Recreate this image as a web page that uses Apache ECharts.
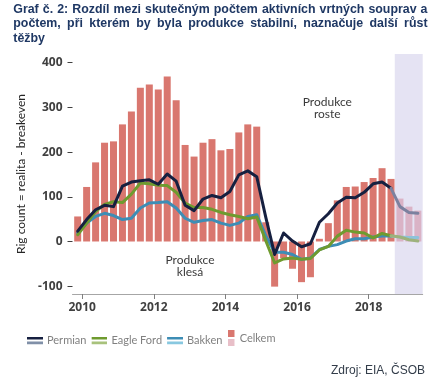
<!DOCTYPE html>
<html><head><meta charset="utf-8">
<script src="https://cdn.jsdelivr.net/npm/echarts@6/dist/echarts.min.js"></script>
<style>html,body{margin:0;padding:0;background:#fff}#c{width:444px;height:389px}</style>
</head><body><div id="c"></div>
<script>
// ---- data ----
const quarters = ['2009Q4',
  '2010Q1','2010Q2','2010Q3','2010Q4','2011Q1','2011Q2','2011Q3','2011Q4',
  '2012Q1','2012Q2','2012Q3','2012Q4','2013Q1','2013Q2','2013Q3','2013Q4',
  '2014Q1','2014Q2','2014Q3','2014Q4','2015Q1','2015Q2','2015Q3','2015Q4',
  '2016Q1','2016Q2','2016Q3','2016Q4','2017Q1','2017Q2','2017Q3','2017Q4',
  '2018Q1','2018Q2','2018Q3','2018Q4','2019Q1','2019Q2'];
const celkem = [56,122,177,221,224,262,291,344,351,340,369,316,216,190,221,229,204,207,244,262,257,43,-101,-37,-61,-91,-80,6,41,92,122,123,133,142,164,140,96,78,69];
const permian = [23,49,71,81,78,124,133,136,138,128,151,135,81,69,95,103,98,112,149,158,145,55,-29,19,1,-12,-5,43,62,86,99,98,110,129,133,119,78,65,63];
const eagleFord = [15,41,67,83,89,87,106,131,129,126,125,110,86,76,76,72,65,60,56,51,55,2,-48,-39,-37,-40,-38,-19,-11,12,25,21,19,8,18,13,10,4,1];
const bakken = [19,41,56,63,58,49,52,75,86,87,89,75,52,43,47,49,41,36,41,56,60,13,-24,-24,-29,-40,-37,-18,-11,-7,1,6,6,10,12,12,10,9,9];
const forecastFrom = '2018Q4';       // first forecast quarter (lighter)
const yearTicks = [2010, 2012, 2014, 2016, 2018];
const yTicks = [-100, 0, 100, 200, 300, 400];
const titleLines = ['Graf č. 2: Rozdíl mezi skutečným počtem aktivních vrtných souprav a',
  'počtem, při kterém by byla produkce stabilní, naznačuje další růst', 'těžby'];
const noteDown = ['Produkce', 'klesá'];
const noteUp = ['Produkce', 'roste'];
const sourceText = 'Zdroj: EIA, ČSOB';

// ---- helpers ----
const qx = q => parseInt(q.slice(0, 4), 10) + (parseInt(q.slice(5), 10) - 0.5) / 4;
const fIdx = quarters.indexOf(forecastFrom);
const xMin = 2009.73, xMax = 2019.51;
const shadeStart = 2018.73;

const C = {
  bar: '#d9776f', barF: '#dab3c6',
  per: '#162040', perF: '#7c819f',
  ef: '#6f9b2f', efF: '#9db27c',
  bak: '#3d8db5', bakF: '#8ec2da',
  shade: '#e5e3f3'
};

function pairs(arr, from, to) {
  return quarters.map((q, i) => (i >= from && i <= to) ? [qx(q), arr[i]] : null).filter(Boolean);
}
function stripeIcon(c1, c2) {
  const svg = '<svg xmlns="http://www.w3.org/2000/svg" width="16" height="8" viewBox="0 0 16 8">' +
    '<rect x="0" y="0" width="16" height="3" fill="' + c1 + '"/>' +
    '<rect x="0" y="5" width="16" height="3" fill="' + c2 + '"/></svg>';
  return 'image://data:image/svg+xml;charset=utf-8,' + encodeURIComponent(svg);
}
function boxIcon(c1, c2) {
  const svg = '<svg xmlns="http://www.w3.org/2000/svg" width="7" height="16" viewBox="0 0 7 16">' +
    '<rect x="0" y="0" width="7" height="7" fill="' + c1 + '"/>' +
    '<rect x="0" y="9" width="7" height="7" fill="' + c2 + '"/></svg>';
  return 'image://data:image/svg+xml;charset=utf-8,' + encodeURIComponent(svg);
}

function lineSeries(name, arr, col, colF) {
  const base = {
    name, type: 'line', showSymbol: false, symbol: 'none', z: 3,
    lineStyle: { width: 3, join: 'round', cap: 'round' }, emphasis: { disabled: true }
  };
  return [
    Object.assign({}, base, { data: pairs(arr, 0, fIdx - 1), lineStyle: Object.assign({}, base.lineStyle, { color: col }), itemStyle: { color: col } }),
    Object.assign({}, base, { data: pairs(arr, fIdx - 1, quarters.length - 1), lineStyle: Object.assign({}, base.lineStyle, { color: colF }), itemStyle: { color: colF } })
  ];
}

// ---- title (justified) ----
const ctx = document.createElement('canvas').getContext('2d');
const tLeft = 13.3, tRight = 427.5, tY0 = 9.5, tLH = 14.3;
ctx.font = 'bold 13px "Liberation Sans", Arial, sans-serif';
const natural = ctx.measureText(titleLines[0]).width;
const tSize = Math.min(13, 13 * (tRight - tLeft) / natural * 0.985);
const titleFont = 'bold ' + tSize.toFixed(2) + 'px "Liberation Sans", Arial, sans-serif';
ctx.font = titleFont;
const graphics = [];
titleLines.forEach((line, li) => {
  const words = line.split(' ');
  const widths = words.map(w => ctx.measureText(w).width);
  const total = widths.reduce((a, b) => a + b, 0);
  const last = li === titleLines.length - 1;
  const gap = last ? ctx.measureText(' ').width : (tRight - tLeft - total) / (words.length - 1);
  let x = tLeft;
  words.forEach((w, wi) => {
    graphics.push({ type: 'text', x: x, y: tY0 + li * tLH,
      style: { text: w, font: titleFont, fill: '#1f3864', align: 'left', verticalAlign: 'middle', textAlign: 'left', textVerticalAlign: 'middle' } });
    x += widths[wi] + gap;
  });
});
const noteFont = '12px Lato, "Open Sans", sans-serif';
function note(lines, cx, cy) {
  lines.forEach((t, i) => graphics.push({ type: 'text', x: cx, y: cy + i * 12,
    style: { text: t, font: noteFont, fill: '#3a3a3a', align: 'center', verticalAlign: 'middle', textAlign: 'center', textVerticalAlign: 'middle' } }));
}
note(noteDown, 190, 260);
note(noteUp, 327.3, 102.3);
graphics.push({ type: 'text', x: 425, y: 371,
  style: { text: sourceText, font: '12px "Liberation Sans", Arial, sans-serif', fill: '#333d4a', align: 'right', verticalAlign: 'middle', textAlign: 'right', textVerticalAlign: 'middle' } });

// ---- chart ----
const chart = echarts.init(document.getElementById('c'), null, { renderer: 'canvas' });
const barData = quarters.map((q, i) => ({ value: [qx(q), celkem[i]], itemStyle: { color: i >= fIdx ? C.barF : C.bar } }));

const axisFont = { fontFamily: '"Open Sans", sans-serif', fontWeight: 'bold', fontSize: 12, color: '#404040' };
const legendText = { fontFamily: 'Lato, sans-serif', fontSize: 11, color: '#808080' };
const option = {
  animation: false,
  grid: { left: 72.5, right: 21.3, top: 54, bottom: 95, containLabel: false },
  xAxis: {
    type: 'value', min: xMin, max: xMax,
    axisLine: { show: true, onZero: false, lineStyle: { color: '#a6a6a6', width: 1 } },
    axisTick: { show: true, length: 5, customValues: yearTicks, lineStyle: { color: '#7f7f7f' } },
    axisLabel: Object.assign({ customValues: yearTicks, margin: 8, formatter: v => String(Math.round(v)) }, axisFont),
    splitLine: { show: false }
  },
  yAxis: {
    type: 'value', min: -117.5, max: 419.5,
    name: 'Rig count = realita - breakeven', nameLocation: 'middle', nameGap: 44.5, nameRotate: 90,
    nameTextStyle: { fontFamily: 'Lato, sans-serif', fontSize: 12, color: '#262626' },
    axisLine: { show: false },
    axisTick: { show: true, length: 5, customValues: yTicks, lineStyle: { color: '#404040' } },
    axisLabel: Object.assign({ customValues: yTicks, margin: 10 }, axisFont),
    splitLine: { show: false }
  },
  legend: [
    { data: [{ name: 'Permian', icon: stripeIcon(C.per, '#8090a8') },
             { name: 'Eagle Ford', icon: stripeIcon(C.ef, '#a8c27c') },
             { name: 'Bakken', icon: stripeIcon(C.bak, '#88c8e0') }],
      left: 27, top: 335, itemWidth: 16, itemHeight: 8, itemGap: 5, selectedMode: false, padding: 0,
      textStyle: Object.assign({ padding: [0, 0, 0, -1] }, legendText) },
    { data: [{ name: 'Celkem', icon: boxIcon(C.bar, '#e8bfc8') }],
      left: 227.7, top: 330, itemWidth: 7, itemHeight: 16, selectedMode: false, padding: 0,
      textStyle: legendText }
  ],
  graphic: graphics,
  series: [
    { name: 'shade', type: 'line', data: [], z: 0, silent: true,
      markArea: { silent: true, itemStyle: { color: C.shade }, data: [[{ xAxis: shadeStart }, { xAxis: xMax }]] } },
    { name: 'Celkem', type: 'bar', barWidth: 7, z: 2, data: barData, itemStyle: { color: C.bar }, emphasis: { disabled: true } },
    ...lineSeries('Bakken', bakken, C.bak, C.bakF),
    ...lineSeries('Eagle Ford', eagleFord, C.ef, C.efF),
    ...lineSeries('Permian', permian, C.per, C.perF)
  ]
};
chart.setOption(option);
</script></body></html>
